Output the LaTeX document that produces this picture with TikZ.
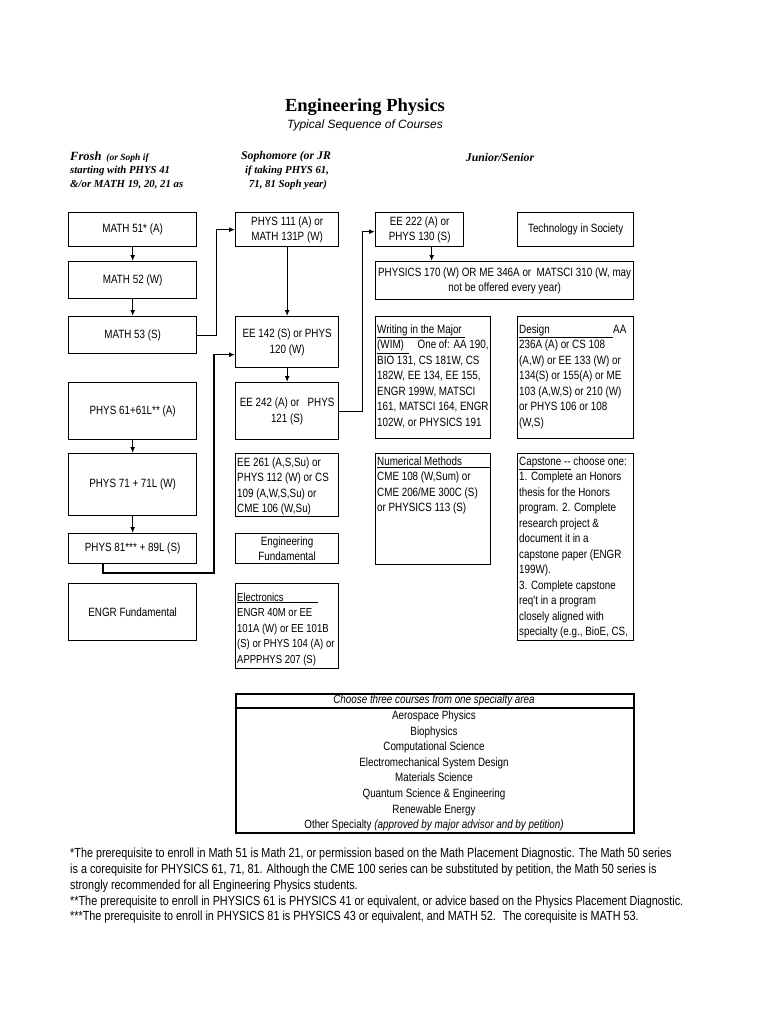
\documentclass[tikz,border=0pt]{standalone}
\usepackage{fontspec}
\usetikzlibrary{arrows.meta}
\newfontfamily\narrow{Liberation Sans}[FakeStretch=0.82]
\newfontfamily\arialf{Liberation Sans}
\newfontfamily\timesf{Liberation Serif}
\newcommand\bx{\narrow\fontsize{12}{15.5}\selectfont}
\begin{document}
\begin{tikzpicture}[x=1pt,y=-1pt,
  cbox/.style={draw, line width=1.3pt, inner sep=0pt, anchor=north west, font=\bx, align=center},
  txt/.style={inner sep=0pt, anchor=north west, align=left, font=\bx},
  arr/.style={line width=1.2pt, -{Latex[length=6pt,width=5pt]}},
  ln/.style={line width=1.3pt},
  hdr/.style={inner sep=0pt, font=\timesf\bfseries\itshape}]
\useasboundingbox[fill=white] (0,0) rectangle (768,1024);

% titles
\node[inner sep=0pt] (title) at (365,107.5) {\timesf\bfseries\fontsize{18.5}{20}\selectfont Engineering Physics};
\node[inner sep=0pt] (subtitle) at (365,125.5) {\arialf\itshape\fontsize{12}{14}\selectfont Typical Sequence of Courses};

% column headers
\node[hdr, anchor=west] (h1a) at (70,157) {{\fontsize{12.5}{14}\selectfont Frosh}\ \ {\fontsize{9.5}{12}\selectfont (or Soph if}};
\node[hdr, anchor=west] (h1b) at (70,171) {\fontsize{10.8}{12}\selectfont starting with PHYS 41};
\node[hdr, anchor=west] (h1c) at (70,185) {\fontsize{10.8}{12}\selectfont \&/or MATH 19, 20, 21 as};
\node[hdr] (h2a) at (286,157) {\fontsize{11.8}{13}\selectfont Sophomore (or JR};
\node[hdr] (h2b) at (287,171) {\fontsize{10.8}{12}\selectfont if taking PHYS 61,};
\node[hdr] (h2c) at (288,185) {\fontsize{10.8}{12}\selectfont 71, 81 Soph year)};
\node[hdr] (h3) at (500,157) {\fontsize{11.8}{13}\selectfont Junior/Senior};

% left column
\node[cbox, minimum width=128, minimum height=34] (m51) at (68,212) {MATH 51* (A)};
\node[cbox, minimum width=128, minimum height=37] (m52) at (68,261) {MATH 52 (W)};
\node[cbox, minimum width=128, minimum height=37] (m53) at (68,316) {MATH 53 (S)};
\node[cbox, minimum width=128, minimum height=57] (p61) at (68,382) {PHYS 61+61L** (A)};
\node[cbox, minimum width=128, minimum height=62] (p71) at (68,453) {PHYS 71 + 71L (W)};
\node[cbox, minimum width=128, minimum height=30] (p81) at (68,533) {PHYS 81*** + 89L (S)};
\node[cbox, minimum width=128, minimum height=57] (engf) at (68,583) {ENGR Fundamental};

% middle column
\node[cbox, minimum width=103, minimum height=34] (p111) at (235,212) {PHYS 111 (A) or\\MATH 131P (W)};
\node[cbox, minimum width=103, minimum height=51] (ee142) at (235,316) {EE 142 (S) or PHYS\\120 (W)};
\node[cbox, minimum width=103, minimum height=57] (ee242) at (235,382) {EE 242 (A) or \ \ PHYS\\121 (S)};
\node[cbox, minimum width=103, minimum height=63] (ee261) at (235,453) {};
\node[txt] (ee261t) at (237,457.5) {EE 261 (A,S,Su) or\\PHYS 112 (W) or CS\\109 (A,W,S,Su) or\\CME 106 (W,Su)};
\node[cbox, minimum width=103, minimum height=30] (engf2) at (235,533) {Engineering\\Fundamental};
\node[cbox, minimum width=103, minimum height=85] (elec) at (235,583) {};
\node[txt, font=\narrow\fontsize{11.6}{15.5}\selectfont] (elect) at (237,592.5) {\underline{\makebox[81pt][l]{Electronics}}\\ENGR 40M or EE\\101A (W) or EE 101B\\(S) or PHYS 104 (A) or\\APPPHYS 207 (S)};

% right columns
\node[cbox, minimum width=88, minimum height=34] (ee222) at (375,212) {EE 222 (A) or\\PHYS 130 (S)};
\node[cbox, minimum width=116, minimum height=34] (tis) at (517,212) {Technology in Society};
\node[cbox, minimum width=258, minimum height=38] (ph170) at (375,261) {PHYSICS 170 (W) OR ME 346A or \ MATSCI 310 (W, may\\not be offered every year)};
\node[cbox, minimum width=115, minimum height=122] (wim) at (375,316) {};
\node[txt] (wimt) at (377,324.5) {\underline{Writing in the Major\ }\\\underline{(WIM)\ \ }\ \ \ One of: AA 190,\\BIO 131, CS 181W, CS\\182W, EE 134, EE 155,\\ENGR 199W, MATSCI\\161, MATSCI 164, ENGR\\102W, or PHYSICS 191};
\node[cbox, minimum width=116, minimum height=122] (des) at (517,316) {};
\node[txt] (dest) at (519,324.5) {\underline{\makebox[94pt][l]{Design}}AA\\236A (A) or CS 108\\(A,W) or EE 133 (W) or\\134(S) or 155(A) or ME\\103 (A,W,S) or 210 (W)\\or PHYS 106 or 108\\(W,S)};
\node[cbox, minimum width=115, minimum height=111] (num) at (375,453) {};
\node[txt] (numt) at (377,456.5) {\underline{\makebox[113pt][l]{Numerical Methods}}\\CME 108 (W,Sum) or\\CME 206/ME 300C (S)\\or PHYSICS 113 (S)};
\node[cbox, minimum width=116, minimum height=187] (cap) at (517,453) {};
\begin{scope}
\clip (517,453) rectangle (633,640);
\node[txt] (capt) at (519,456.5) {\underline{Capstone --} choose one:\\1. Complete an Honors\\thesis for the Honors\\program. 2. Complete\\research project \&\\document it in a\\capstone paper (ENGR\\199W).\\3. Complete capstone\\req't in a program\\closely aligned with\\specialty (e.g., BioE, CS,};
\end{scope}

% specialty box
\node[cbox, line width=1.5pt, minimum width=398, minimum height=139] (spec) at (235,693) {};
\draw[ln] ([yshift=-15pt]spec.north west) -- ([yshift=-15pt]spec.north east);
\node[inner sep=0pt, font=\bx\itshape] (spech) at (434,700.5) {Choose three courses from one specialty area};
\node[inner sep=0pt, anchor=north, align=center, font=\narrow\fontsize{12}{15.6}\selectfont] (specl) at (434,710.5) {Aerospace Physics\\Biophysics\\Computational Science\\Electromechanical System Design\\Materials Science\\Quantum Science \& Engineering\\Renewable Energy\\Other Specialty \textit{(approved by major advisor and by petition)}};

% footnotes
\node[txt, font=\narrow\fontsize{13.2}{15.8}\selectfont] (foot) at (70,848) {*The prerequisite to enroll in Math 51 is Math 21, or permission based on the Math Placement Diagnostic. The Math 50 series\\is a corequisite for PHYSICS 61, 71, 81. Although the CME 100 series can be substituted by petition, the Math 50 series is\\strongly recommended for all Engineering Physics students.\\**The prerequisite to enroll in PHYSICS 61 is PHYSICS 41 or equivalent, or advice based on the Physics Placement Diagnostic.\\***The prerequisite to enroll in PHYSICS 81 is PHYSICS 43 or equivalent, and MATH 52. \ The corequisite is MATH 53.};

% connectors
\draw[arr] (m51) -- (m52);
\draw[arr] (m52) -- (m53);
\draw[arr] (m53.east) -- ++(19,0) |- (p111.west);
\draw[arr] (p111) -- (ee142);
\draw[arr] (ee142) -- (ee242);
\draw[arr] (ee242.east) -- ++(23,0) |- ([yshift=-2pt]ee222.west);
\coordinate (a1) at ([xshift=12pt]ee222.south);
\draw[arr] (a1) -- (a1 |- ph170.north);
\draw[arr] (p61) -- (p71);
\draw[arr] (p71) -- (p81);
\coordinate (c1) at (103,573);
\coordinate (c2) at (214,573);
\draw[arr] (p81.south -| c1) -- (c1) -- (c2) |- ([yshift=-12.5pt]ee142.west);
\end{tikzpicture}
\end{document}
